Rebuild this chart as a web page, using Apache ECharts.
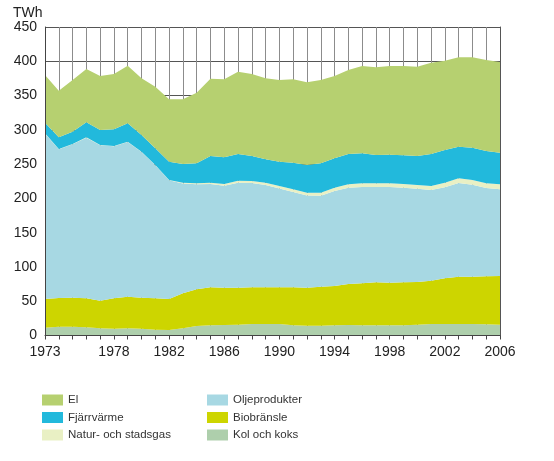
<!DOCTYPE html>
<html><head><meta charset="utf-8">
<script src="https://cdn.jsdelivr.net/npm/echarts@6/dist/echarts.min.js"></script>
<style>html,body{margin:0;padding:0;background:#fff}#c{width:554px;height:461px}</style>
</head><body><div id="c"></div>
<script>
const years = ['1973','1974','1975','1976','1977','1978','1979','1980','1981','1982',
  '1983','1984','1985','1986','1987','1988','1989','1990','1991','1992',
  '1993','1994','1995','1996','1997','1998','1999','2000','2001','2002',
  '2003','2004','2005','2006'];
const xTickLabels = ['1973','1978','1982','1986','1990','1994','1998','2002','2006'];

const kolOchKoks = [11.4,12.8,12.8,12.0,10.5,9.9,10.5,9.9,8.5,8.0,
  10.5,13.9,14.9,15.3,15.8,16.8,16.8,16.8,14.9,14.3,
  14.3,14.9,15.3,14.9,14.9,14.9,14.9,15.8,16.8,16.8,
  16.8,16.8,16.3,15.8];
const biobransle = [41.8,41.9,42.3,42.3,40.3,44.4,46.1,45.2,45.8,45.2,
  51.1,53.5,55.4,54.4,53.9,53.5,53.5,53.5,55.4,55.4,
  56.9,57.3,59.8,61.2,62.7,62.1,62.7,62.2,63.1,66.6,
  69.0,69.0,70.0,71.0];
const oljeprodukter = [241.2,216.8,223.7,234.3,226.6,221.6,225.6,212.5,193.9,173.3,
  160.3,153.1,150.6,148.8,153.1,152.1,149.1,144.3,138.9,134.6,
  132.6,138.4,140.4,140.4,138.9,139.5,137.9,136.0,132.2,133.0,
  136.5,134.0,128.7,126.7];
const naturgas = [0.5,0.5,0.5,0.5,0.5,0.5,0.5,0.5,0.5,0.5,
  1,1.5,2,2.5,3,3,3.5,3.5,4,4,
  4.5,5,5,5.5,5.5,5.5,5.5,5.5,6,6.5,
  7,7,7,7];
const fjarrvarme = [15.5,17.1,18.0,21.9,21.8,24.4,26.8,24.3,24.3,26.5,
  27.2,29.2,38.9,38.9,38.9,36.4,34.1,35.4,38.8,40.4,
  42.9,42.9,44.2,43.8,41.3,41.7,41.8,42.3,46.6,47.7,
  46.1,47.2,47.1,46.1];
const el = [69.6,68.0,75.4,77.7,78.8,80.6,84.0,82.7,89.9,91.0,
  94.4,102.9,112.8,113.8,120.1,119.6,118.1,119.2,121.7,120.6,
  121.5,120.0,122.6,127.3,127.9,129.4,130.3,130.3,133.2,130.2,
  130.4,131.8,132.7,132.3];

const seriesDefs = [
  ['Kol och koks', kolOchKoks, '#aecfac'],
  ['Biobränsle', biobransle, '#cdd500'],
  ['Oljeprodukter', oljeprodukter, '#a7d8e3'],
  ['Natur- och stadsgas', naturgas, '#e9f0c4'],
  ['Fjärrvärme', fjarrvarme, '#22b9dc'],
  ['El', el, '#b6d070']
];

const chart = echarts.init(document.getElementById('c'), null, {renderer:'canvas'});
const font = 'Liberation Sans, Arial, Helvetica, sans-serif';
chart.setOption({
  animation: false,
  backgroundColor: '#fff',
  textStyle: {fontFamily: font},
  title: {text: 'TWh', left: 8, top: 1, textStyle: {fontSize: 14, fontWeight: 'normal', color: '#222', fontFamily: font}},
  grid: {left: 45, right: 54, top: 27, bottom: 125.5, containLabel: false},
  xAxis: [
    {type: 'category', data: years, boundaryGap: false, z: 0,
     axisLine: {show: false}, axisTick: {show: false}, axisLabel: {show: false},
     splitLine: {show: true, interval: 0, lineStyle: {color: '#8c8c8c', width: 1}}},
    {type: 'category', data: years, boundaryGap: false, position: 'bottom', z: 5,
     axisLine: {show: true, lineStyle: {color: '#444', width: 1}},
     axisTick: {show: true, interval: 0, length: 4, lineStyle: {color: '#444'}},
     axisLabel: {interval: (i, v) => xTickLabels.includes(v), fontSize: 14, color: '#222', margin: 10, fontFamily: font},
     splitLine: {show: false}}
  ],
  yAxis: [
    {type: 'value', min: 0, max: 450, interval: 50, z: 0,
     axisLine: {show: false}, axisTick: {show: false}, axisLabel: {show: false},
     splitLine: {show: true, lineStyle: {color: '#555', width: 1}}},
    {type: 'value', min: 0, max: 450, interval: 50, position: 'left', z: 5,
     axisLine: {show: true, lineStyle: {color: '#444', width: 1}}, axisTick: {show: false},
     axisLabel: {fontSize: 14, color: '#222', margin: 8, fontFamily: font},
     splitLine: {show: false}},
    {type: 'value', min: 0, max: 450, interval: 50, position: 'right', z: 5,
     axisLine: {show: true, lineStyle: {color: '#555', width: 1}}, axisTick: {show: false},
     axisLabel: {show: false}, splitLine: {show: false}}
  ],
  legend: [
    {orient: 'vertical', left: 37, top: 389, itemWidth: 21, itemHeight: 11, itemGap: 5.5, icon: 'rect',
     data: ['El', 'Fjärrvärme', 'Natur- och stadsgas'],
     textStyle: {fontSize: 11.5, color: '#333', fontFamily: font}},
    {orient: 'vertical', left: 202, top: 389, itemWidth: 21, itemHeight: 11, itemGap: 5.5, icon: 'rect',
     data: ['Oljeprodukter', 'Biobränsle', 'Kol och koks'],
     textStyle: {fontSize: 11.5, color: '#333', fontFamily: font}}
  ],
  series: seriesDefs.map(([name, data, color]) => ({
    name, type: 'line', stack: 'total', data,
    xAxisIndex: 0, yAxisIndex: 0,
    symbol: 'none', showSymbol: false, smooth: false,
    lineStyle: {width: 0, color},
    itemStyle: {color},
    areaStyle: {color, opacity: 1}
  }))
});
</script>
</body></html>
